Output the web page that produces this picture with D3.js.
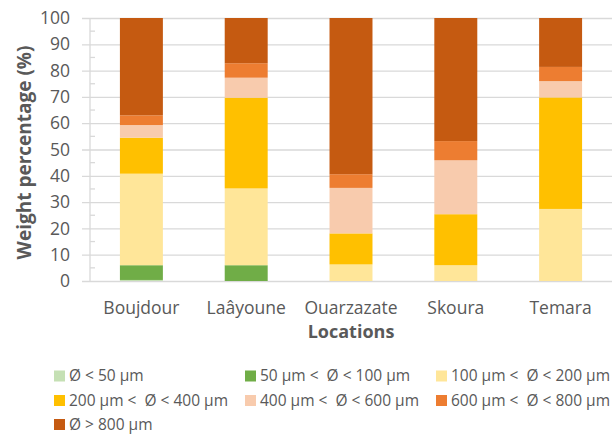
<!DOCTYPE html>
<html>
<head>
<meta charset="utf-8">
<script src="https://cdn.jsdelivr.net/npm/d3@7"></script>
<style>
  body { margin: 0; background: #fff; }
  svg { font-family: "Open Sans", "Liberation Sans", sans-serif; }
</style>
</head>
<body>
<svg id="chart" width="612" height="434"></svg>
<script>
// data
var locations = ["Boujdour", "Laâyoune", "Ouarzazate", "Skoura", "Temara"];
var sizeClasses = ["Ø < 50 µm", "50 µm <  Ø < 100 µm", "100 µm <  Ø < 200 µm", "200 µm <  Ø < 400 µm",
                   "400 µm <  Ø < 600 µm", "600 µm <  Ø < 800 µm", "Ø > 800 µm"];
var classColors = ["#C5E0B4", "#70AD47", "#FFE699", "#FFC000", "#F8CBAD", "#ED7D31", "#C55A11"];

// one array per size class, values in the order of locations
var lt50 = [0.4, 0, 0, 0, 0];
var from50to100 = [5.6, 6.0, 0, 0, 0];
var from100to200 = [34.8, 29.2, 6.3, 6.0, 27.4];
var from200to400 = [13.7, 34.5, 11.8, 19.4, 42.4];
var from400to600 = [4.8, 7.6, 17.3, 20.5, 6.2];
var from600to800 = [3.7, 5.5, 5.2, 7.3, 5.4];
var gt800 = [37.0, 17.2, 59.4, 46.8, 18.6];

var yTicks = [0, 10, 20, 30, 40, 50, 60, 70, 80, 90, 100];
var yMinorTicks = [5, 15, 25, 35, 45, 55, 65, 75, 85, 95];

var series = [lt50, from50to100, from100to200, from200to400, from400to600, from600to800, gt800];

// build rows for d3.stack
var rows = locations.map(function(loc, i) {
	var row = {location: loc};
	sizeClasses.forEach(function(c, k) { row[c] = series[k][i]; });
	return row;
});

var svg = d3.select("#chart");
// note: "top" is taken by window.top, so plot edges get their own names
var plotLeft = 90, plotRight = 612, plotTop = 18, plotBottom = 281;
var textColor = "#595959", gridColor = "#D9D9D9";

var x = d3.scaleBand().domain(locations).range([89, 613]).paddingInner(0.59).paddingOuter(0.295);
var y = d3.scaleLinear().domain([0, 100]).range([plotBottom, plotTop]);

// grid + y axis
var yAxis = svg.append("g")
	.attr("transform", "translate(" + plotLeft + ",0)")
	.call(d3.axisLeft(y).tickValues(yTicks).tickSizeInner(-(plotRight - plotLeft)).tickSizeOuter(0).tickPadding(20));
yAxis.select(".domain").remove();
yAxis.selectAll(".tick line")
	.attr("x1", -8)
	.attr("stroke", gridColor)
	.attr("stroke-width", 1.3);
yAxis.selectAll(".tick text")
	.attr("fill", textColor)
	.attr("font-size", 17.5)
	.attr("font-family", "Open Sans, Liberation Sans, sans-serif");

// vertical axis line and minor ticks
svg.append("line")
	.attr("x1", plotLeft).attr("x2", plotLeft)
	.attr("y1", y(100)).attr("y2", y(0))
	.attr("stroke", gridColor).attr("stroke-width", 1.3);
svg.selectAll(".minor").data(yMinorTicks).enter().append("line")
	.attr("class", "minor")
	.attr("x1", plotLeft).attr("x2", plotLeft + 5)
	.attr("y1", function(d) { return y(d); })
	.attr("y2", function(d) { return y(d); })
	.attr("stroke", gridColor).attr("stroke-width", 1.3);

// stacked bars
var stacked = d3.stack().keys(sizeClasses)(rows);
svg.append("g").selectAll("g").data(stacked).enter().append("g")
	.attr("fill", function(d, k) { return classColors[k]; })
	.selectAll("rect").data(function(d) { return d; }).enter().append("rect")
	.attr("x", function(d) { return x(d.data.location); })
	.attr("width", x.bandwidth())
	.attr("y", function(d) { return y(d[1]); })
	.attr("height", function(d) { return y(d[0]) - y(d[1]); });

// x labels
svg.append("g").selectAll("text").data(locations).enter().append("text")
	.attr("x", function(d) { return x(d) + x.bandwidth() / 2; })
	.attr("y", 314)
	.attr("text-anchor", "middle")
	.attr("fill", textColor)
	.attr("font-size", 17.5)
	.text(function(d) { return d; });

// axis titles
svg.append("text")
	.attr("x", (89 + 613) / 2).attr("y", 338)
	.attr("text-anchor", "middle")
	.attr("fill", textColor)
	.attr("font-size", 18)
	.attr("font-weight", "bold")
	.text("Locations");
svg.append("text")
	.attr("transform", "translate(31," + ((plotTop + plotBottom) / 2 + 3) + ") rotate(-90)")
	.attr("text-anchor", "middle")
	.attr("fill", textColor)
	.attr("font-size", 19)
	.attr("font-weight", "bold")
	.text("Weight percentage (%)");

// legend, 3 per row
var legendCols = [54, 245, 436], legendRows = [376, 400.5, 424.5];
var legend = svg.append("g").selectAll("g").data(sizeClasses).enter().append("g")
	.attr("transform", function(d, i) {
		return "translate(" + legendCols[i % 3] + "," + legendRows[Math.floor(i / 3)] + ")";
	});
legend.append("rect")
	.attr("x", 0).attr("y", -5.5)
	.attr("width", 11).attr("height", 11)
	.attr("fill", function(d, i) { return classColors[i]; });
legend.append("text")
	.attr("x", 15).attr("dy", "0.35em")
	.attr("fill", textColor)
	.attr("font-size", 15.5)
	.style("white-space", "pre")
	.text(function(d) { return d; });
</script>
</body>
</html>
